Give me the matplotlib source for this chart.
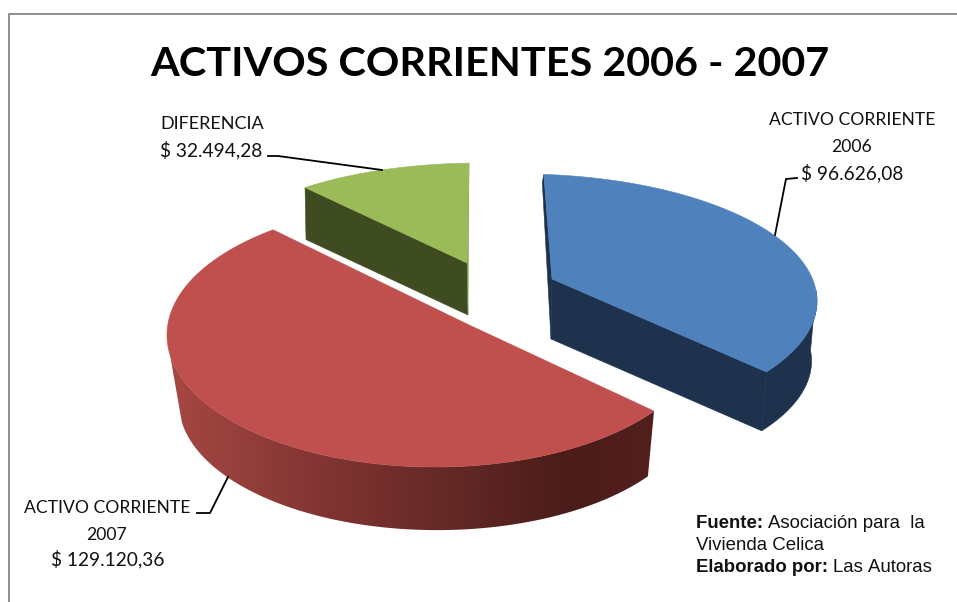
import numpy as np
import matplotlib
matplotlib.use('Agg')
import matplotlib.pyplot as plt
from matplotlib.patches import Polygon
from matplotlib.colors import LinearSegmentedColormap

# values
names = ['ACTIVO CORRIENTE\n2006', 'ACTIVO CORRIENTE\n2007', 'DIFERENCIA']
values = [96626.08, 129120.36, 32494.28]
value_labels = ['$ 96.626,08', '$ 129.120,36', '$ 32.494,28']
title = 'ACTIVOS CORRIENTES 2006 - 2007'

# how each slice sits on the page (pixels), the 3d look of the original is skewed
#        apex        arc centre   a    b    start  stretch  wall shift  wall scale
poses = [((552, 279), (520, 301), 297, 127, 4.6, 0.886, (-1, 60), 0.985),
         ((467, 324), (435, 335), 268, 132, 125.2, 1.098, (2, 68), 0.963),
         ((467, 263), (480, 260), 263, 97, 318.3, 0.868, (1, 52), 1.0)]
top_colors = ['#4F81BD', '#C0504D', '#9BBB59']
wall_colors = ['#1E324E', '#1E324E', '#3F4C21']
red_wall = LinearSegmentedColormap.from_list('redwall', [
    (0.0, '#A84844'), (0.13, '#97403C'), (0.35, '#7E3331'), (0.55, '#672A28'),
    (0.82, '#4B1C1A'), (1.0, '#521F1D')])

W, H = 957, 602
fig = plt.figure(figsize=(W / 100, H / 100), dpi=100)
ax = fig.add_axes([0, 0, 1, 1])
ax.set_xlim(0, W)
ax.set_ylim(H, 0)
ax.axis('off')

# frame, only top and left show
ax.plot([8.5, 8.5, W], [H, 13.5, 13.5], color='#868686', lw=1.3, zorder=1)


def arc(pose, sweep, n=300, shift=(0, 0), scale=1.0):
    apex, c, a, b, start, stretch, _, _ = pose
    t = np.linspace(start, start + sweep * stretch, n)
    r = np.radians(t)
    x = c[0] + shift[0] + scale * a * np.sin(r)
    y = c[1] + shift[1] - scale * b * np.cos(r)
    return t, x, y


total = sum(values)
for i in [2, 0, 1]:
    pose = poses[i]
    sweep = 360.0 * values[i] / total
    apex = pose[0]
    wshift, wscale = pose[6], pose[7]
    t, x, y = arc(pose, sweep)
    t, xb, yb = arc(pose, sweep, shift=wshift, scale=wscale)
    ab = (apex[0] + wshift[0], apex[1] + wshift[1])

    if i == 0:
        # outer wall, only the part past the right edge shows
        m = t > 85
        ax.fill(np.r_[x[m], xb[m][::-1]], np.r_[y[m], yb[m][::-1]], color=wall_colors[i], lw=0.4, zorder=3 + i)
        # cut face along the end of the slice, and the thin one at the start
        ax.fill([x[-1], apex[0], ab[0], xb[-1]], [y[-1], apex[1], ab[1], yb[-1]], color=wall_colors[i], lw=0.4, zorder=3 + i)
        ax.fill([x[0], x[0] - 1.5, ab[0], apex[0]], [y[0], y[0] + 8, ab[1], apex[1]], color=wall_colors[i], lw=0.4, zorder=3 + i)
    if i == 1:
        # gradient runs left to right, clipped to the wall outline
        m = t < 262
        outline = Polygon(np.c_[np.r_[x[m], xb[m][::-1]], np.r_[y[m], yb[m][::-1]]], closed=True, fc='none', ec='none', transform=ax.transData)
        ax.add_patch(outline)
        grad = np.linspace(0, 1, 256).reshape(1, -1)
        im = ax.imshow(grad, cmap=red_wall, extent=(165, 656, 545, 330), aspect='auto', zorder=3 + i)
        im.set_clip_path(outline)
        ax.set_xlim(0, W)
        ax.set_ylim(H, 0)
    if i == 2:
        ax.fill([x[0], apex[0], ab[0], xb[0]], [y[0], apex[1], ab[1], yb[0]], color=wall_colors[i], lw=0.4, zorder=3 + i)
        ax.fill([x[-1], apex[0], ab[0]], [y[-1], apex[1], ab[1]], color='#7F9A4C', lw=0.3, zorder=3 + i)

    ax.fill(np.r_[apex[0], x], np.r_[apex[1], y], color=top_colors[i], lw=0.4, zorder=3.5 + i)

# leaders
ax.plot([775, 786, 797], [235, 179, 178], color='k', lw=1.3, zorder=8)
ax.plot([382, 278, 268], [170, 156, 156], color='k', lw=1.3, zorder=8)
ax.plot([228, 210, 197], [477, 513, 513], color='k', lw=1.3, zorder=8)

sans = 'Lato'
ax.text(490, 64, title, family=sans, weight='bold', fontsize=29.8, ha='center', va='center', color='k', zorder=9)

lab = dict(family=sans, color='#111111', va='center', zorder=9)
for k, line in enumerate(names[0].split('\n')):
    ax.text(852, 120 + 26.5 * k, line, ha='center', fontsize=12.6, **lab)
ax.text(852, 173, value_labels[0], ha='center', fontsize=13.8, **lab)
for k, line in enumerate(names[1].split('\n')):
    ax.text(107, 508 + 26.5 * k, line, ha='center', fontsize=12.6, **lab)
ax.text(108, 559, value_labels[1], ha='center', fontsize=13.8, **lab)
ax.text(160, 124, names[2], ha='left', fontsize=13, **lab)
ax.text(160, 150, value_labels[2], ha='left', fontsize=13.8, **lab)

# source note, bold and regular runs on one line
note = [[('Fuente: ', 'bold'), ('Asociación para  la', 'normal')],
        [('Vivienda Celica', 'normal')],
        [('Elaborado por: ', 'bold'), ('Las Autoras', 'normal')]]
fig.canvas.draw()
rend = fig.canvas.get_renderer()
for k, runs in enumerate(note):
    xpos = 696
    for txt, wgt in runs:
        t_ = ax.text(xpos, 523 + 22 * k, txt.replace(' ', '\u00a0'), family='Liberation Sans', weight=wgt, fontsize=13.45,
                     color='#111111', va='center', ha='left', zorder=9)
        xpos += t_.get_window_extent(rend).width

fig.savefig('out.png', dpi=100)
